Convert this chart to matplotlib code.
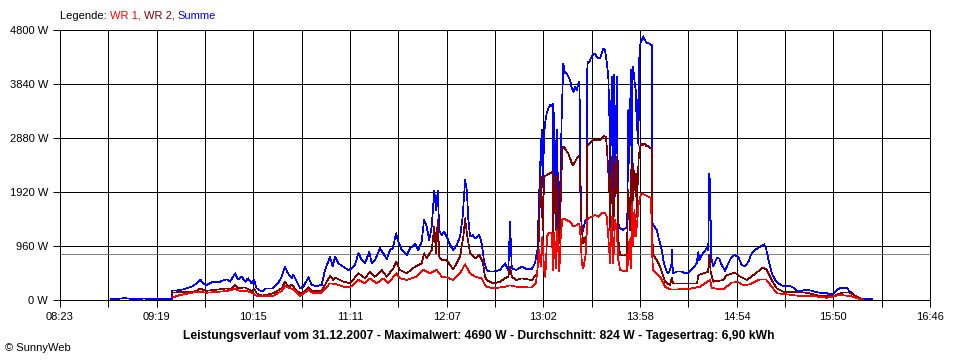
import matplotlib
matplotlib.use("Agg")
import matplotlib.pyplot as plt

plt.rcParams['font.family'] = ['Liberation Sans', 'DejaVu Sans']

# time in minutes after midnight, power in W
t_summe = [532.5, 536.5, 540.6, 542.3, 546.4, 552.1, 555.0, 560.8, 565.4, 567.6, 567.8, 572.4, 576.3, 579.3,
           582.0, 584.0, 585.7, 587.8, 591.5, 595.5, 599.4, 601.3, 604.2, 605.9, 608.1, 610.0, 611.7, 613.8,
           615.2, 616.7, 619.6, 622.1, 626.2, 629.1, 631.2, 633.1, 634.8, 637.0, 637.9, 639.5, 641.8, 643.7,
           646.6, 648.5, 651.4, 654.3, 656.2, 659.1, 660.7, 662.0, 663.9, 666.8, 669.7, 671.7, 673.6, 675.5,
           677.4, 679.4, 681.8, 683.2, 685.1, 688.0, 689.9, 691.9, 693.8, 695.4, 697.3, 698.6, 700.6, 703.5,
           705.4, 708.3, 710.2, 712.1, 713.5, 715.0, 716.5, 717.9, 719.4, 720.4, 721.4, 722.3, 723.7, 725.0,
           726.6, 728.5, 730.4, 732.4, 734.3, 735.8, 737.2, 738.2, 739.1, 740.1, 741.6, 743.0, 745.4, 746.8,
           748.2, 749.7, 751.6, 753.5, 757.4, 760.3, 762.2, 763.2, 764.2, 766.7, 770.0, 772.8, 775.7, 777.6,
           779.0, 779.6, 780.5, 781.5, 782.1, 782.9, 783.4, 784.4, 785.3, 786.3, 787.3, 787.9, 788.2, 788.8,
           789.6, 790.5, 791.1, 792.1, 793.1, 794.0, 795.0, 796.0, 796.9, 797.9, 798.9, 799.8, 800.8, 801.8,
           802.7, 803.3, 803.7, 804.2, 805.0, 806.0, 806.9, 807.7, 807.9, 808.5, 809.5, 810.4, 811.4, 812.3,
           813.3, 814.3, 815.2, 816.2, 817.1, 818.1, 819.1, 820.0, 820.6, 821.0, 822.0, 822.6, 823.3, 823.9,
           824.9, 825.8, 826.8, 828.7, 830.7, 831.0, 831.6, 832.2, 833.0, 833.6, 834.1, 834.7, 835.3, 835.9,
           836.5, 836.8, 837.4, 838.0, 838.8, 839.3, 840.3, 840.8, 841.8, 842.6, 843.2, 844.1, 845.1, 845.5,
           846.0, 848.0, 848.9, 849.9, 850.9, 851.8, 852.8, 853.8, 854.7, 855.7, 856.7, 856.9, 857.1, 857.6,
           859.6, 862.5, 864.4, 866.3, 867.3, 869.2, 871.1, 872.1, 872.6, 874.0, 875.9, 876.9, 877.8, 878.4,
           879.0, 879.4, 880.7, 882.7, 884.2, 885.6, 887.5, 889.4, 891.4, 893.3, 895.2, 897.2, 899.1, 901.0,
           902.9, 904.9, 906.8, 908.7, 910.1, 911.2, 912.5, 914.5, 916.4, 918.3, 920.3, 923.2, 925.1, 927.0,
           929.0, 931.9, 934.7, 937.6, 940.5, 943.4, 946.3, 948.2, 950.1, 952.1, 954.0, 955.9, 957.9, 959.8,
           961.7, 963.7, 965.6, 967.5, 972.3]
p_summe = [15, 20, 35, 25, 20, 25, 18, 22, 20, 20, 165, 175, 207, 240,
           296, 367, 300, 267, 326, 326, 367, 326, 474, 367, 415, 326, 385, 296,
           356, 207, 148, 207, 207, 296, 415, 593, 474, 385, 444, 356, 207, 237,
           403, 267, 249, 267, 533, 759, 593, 770, 652, 593, 533, 563, 622, 830,
           711, 652, 859, 652, 711, 919, 830, 724, 889, 919, 1185, 1037, 889, 800,
           919, 996, 889, 1037, 1422, 1304, 1067, 1304, 1943, 1600, 1943, 1230, 1156, 1215,
           1126, 978, 889, 978, 1126, 1481, 2133, 1956, 1422, 1126, 1156, 1096, 1156, 1007,
           681, 533, 504, 504, 533, 652, 533, 1393, 563, 533, 593, 548, 548, 652,
           889, 1481, 2311, 3022, 2000, 2904, 3141, 3319, 3407, 3467, 3440, 3496, 1244, 3320,
           1300, 3022, 1000, 1837, 3320, 4207, 4030, 4030, 3970, 3911, 3763, 3700, 3790, 3730,
           3850, 3882, 3022, 1481, 1185, 1330, 1422, 1450, 4237, 4207, 4266, 4326, 4355, 4385,
           4326, 4296, 4296, 4385, 4474, 4444, 4237, 3970, 3319, 2133, 3970, 1837, 4000, 1837,
           3970, 1363, 1274, 1244, 1300, 1481, 3378, 2430, 4089, 2193, 4148, 4030, 3850, 3730,
           3022, 3560, 2750, 4444, 4593, 4622, 4690, 4630, 4593, 4563, 4563, 4550, 4533, 1363,
           1333, 1244, 1126, 1007, 889, 711, 593, 504, 474, 533, 650, 889, 600, 474,
           504, 504, 474, 480, 520, 569, 652, 859, 711, 800, 880, 919, 889, 2252,
           1970, 770, 593, 741, 740, 620, 520, 652, 770, 800, 760, 622, 600, 680,
           830, 889, 930, 960, 990, 920, 730, 474, 360, 296, 260, 240, 250, 220,
           160, 165, 180, 165, 140, 120, 120, 100, 119, 178, 210, 220, 210, 148,
           100, 59, 30, 12, 12]

t_wr2 = [567.8, 572.4, 578.2, 582.0, 584.0, 585.7, 587.8, 592.6, 599.4, 601.3, 604.2, 605.9, 610.0, 613.8,
         615.2, 616.7, 619.6, 626.2, 631.2, 633.1, 634.8, 637.0, 637.9, 639.5, 641.8, 643.7, 646.6, 648.5,
         654.3, 657.2, 659.1, 661.0, 662.0, 666.8, 670.7, 675.5, 679.4, 682.2, 685.1, 689.0, 691.9, 695.7,
         697.3, 699.6, 703.5, 708.3, 712.1, 713.5, 715.0, 717.9, 719.4, 720.4, 721.4, 722.3, 723.7, 726.6,
         728.5, 730.4, 734.3, 736.2, 737.2, 738.5, 740.1, 743.0, 745.4, 747.4, 748.7, 749.7, 753.5, 757.4,
         760.3, 762.2, 763.2, 764.2, 766.7, 770.0, 775.7, 777.6, 779.0, 779.6, 780.5, 781.1, 782.1, 782.9,
         784.4, 786.3, 787.9, 788.2, 788.8, 789.8, 790.5, 791.7, 792.7, 793.4, 794.0, 795.0, 796.0, 796.9,
         797.9, 798.9, 799.8, 800.8, 801.8, 802.7, 803.3, 803.7, 804.7, 805.6, 806.9, 807.4, 807.9, 808.5,
         810.4, 811.4, 813.3, 815.2, 816.2, 817.5, 818.7, 819.5, 820.6, 821.0, 822.0, 822.9, 823.9, 824.5,
         825.2, 825.8, 826.8, 828.7, 830.7, 831.0, 831.6, 832.6, 833.2, 833.9, 834.5, 835.1, 835.9, 836.5,
         837.0, 837.6, 838.4, 839.3, 840.3, 841.3, 842.2, 843.2, 844.1, 845.1, 845.5, 846.0, 848.0, 849.9,
         852.8, 855.7, 856.7, 857.4, 871.3, 872.1, 877.7, 878.4, 879.2, 880.6, 886.5, 888.5, 893.3, 896.2,
         900.1, 903.9, 909.7, 911.6, 914.5, 917.4, 921.2, 934.7, 942.4, 950.1, 955.9, 959.8, 963.7, 966.5]
p_wr2 = [130, 142, 142, 160, 207, 180, 165, 180, 207, 190, 267, 207, 225, 160,
         207, 119, 77, 119, 207, 326, 240, 267, 237, 180, 119, 130, 225, 166,
         166, 326, 427, 356, 400, 326, 296, 474, 385, 504, 415, 533, 415, 563,
         681, 533, 474, 593, 652, 830, 740, 889, 1304, 830, 1422, 770, 711, 711,
         622, 545, 770, 1126, 1452, 1126, 830, 740, 800, 681, 415, 356, 296, 326,
         385, 415, 593, 415, 356, 385, 356, 420, 474, 889, 1837, 2193, 1244, 2193,
         2222, 2252, 2281, 1185, 2193, 1244, 2193, 1007, 1956, 2667, 2726, 2696, 2637, 2607,
         2519, 2430, 2400, 2460, 2519, 2548, 2560, 2015, 1244, 1007, 1126, 1100, 2785, 2756,
         2815, 2844, 2844, 2844, 2874, 2916, 2900, 2548, 1956, 1244, 2548, 1244, 2430, 1900,
         2548, 1067, 800, 790, 800, 1185, 1956, 1244, 2311, 1480, 2430, 1956, 2250, 1480,
         2070, 2548, 2726, 2785, 2756, 2785, 2726, 2740, 2696, 2696, 1067, 800, 711, 593,
         326, 267, 390, 296, 296, 444, 504, 800, 500, 326, 356, 444, 485, 415,
         356, 444, 581, 533, 356, 207, 148, 130, 71, 71, 136, 130, 59, 15]

t_wr1 = [568.3, 572.4, 578.2, 582.0, 587.8, 592.6, 599.4, 604.2, 607.1, 610.0, 613.8, 616.7, 619.6, 626.2,
         631.2, 633.1, 636.0, 637.9, 641.8, 646.6, 649.5, 654.3, 659.1, 662.0, 666.8, 670.7, 675.5, 679.4,
         682.2, 686.1, 689.9, 692.8, 697.3, 699.6, 703.5, 709.3, 713.1, 716.9, 720.8, 723.7, 726.6, 730.4,
         734.3, 737.2, 740.1, 743.0, 746.8, 748.7, 749.7, 753.5, 760.3, 763.2, 766.7, 775.7, 778.2, 779.0,
         780.1, 780.9, 781.9, 782.9, 783.6, 784.6, 785.3, 786.3, 787.3, 788.2, 788.8, 789.6, 790.5, 791.7,
         792.5, 793.4, 794.0, 796.0, 797.9, 799.8, 801.8, 803.3, 804.1, 804.7, 805.6, 806.9, 807.9, 808.5,
         810.4, 812.3, 814.3, 816.2, 818.1, 819.1, 820.0, 821.0, 822.0, 822.9, 823.9, 824.9, 825.8, 826.8,
         830.7, 831.0, 831.6, 832.2, 833.0, 833.7, 834.5, 835.1, 835.9, 836.8, 837.6, 838.4, 839.3, 841.3,
         843.2, 844.7, 845.5, 846.0, 849.9, 852.8, 855.7, 857.6, 867.3, 873.0, 878.8, 879.8, 882.7, 886.5,
         891.4, 895.2, 898.1, 902.0, 907.7, 911.2, 914.5, 917.4, 923.2, 930.9, 937.6, 946.3, 954.0, 959.8,
         965.6, 967.5]
p_wr1 = [47, 89, 120, 148, 130, 140, 160, 196, 160, 165, 130, 71, 71, 71,
         160, 249, 207, 190, 71, 178, 119, 130, 296, 285, 237, 225, 356, 296,
         385, 296, 385, 296, 474, 385, 356, 415, 533, 474, 533, 415, 400, 356,
         474, 634, 474, 415, 385, 267, 237, 207, 237, 260, 237, 220, 300, 533,
         889, 593, 1126, 533, 415, 1126, 1185, 1200, 1185, 533, 1200, 563, 1244, 504,
         1126, 1422, 1452, 1422, 1393, 1304, 1333, 1363, 1067, 652, 563, 800, 1422, 1452,
         1481, 1511, 1481, 1541, 1550, 1481, 1126, 652, 1481, 652, 1422, 1244, 711, 533,
         504, 800, 620, 1067, 560, 1718, 948, 1600, 1126, 1422, 1718, 1837, 1896, 1866,
         1837, 1810, 711, 533, 415, 237, 190, 185, 200, 237, 356, 215, 200, 190,
         308, 320, 260, 280, 367, 367, 237, 119, 100, 71, 71, 40, 89, 71,
         15, 5]

durchschnitt = 824
maximalwert = 4690
tagesertrag = "6,90"
datum = "31.12.2007"

x_start, x_end = 503, 1006          # 08:23 .. 16:46
n_div = 18
x_labels = ["08:23", "09:19", "10:15", "11:11", "12:07", "13:02", "13:58", "14:54", "15:50", "16:46"]
y_ticks = [0, 960, 1920, 2880, 3840, 4800]

px = 0.72  # one pixel at 100 dpi

fig = plt.figure(figsize=(9.6, 3.6), dpi=100)
ax = fig.add_axes([60/960, 60/360, 870/960, 270/360])

ax.axhline(durchschnitt, color='#808080', lw=px, zorder=1.5, antialiased=False)
ax.plot(t_summe, p_summe, color='#0000ff', lw=0.5, zorder=3, antialiased=False)
ax.plot(t_wr2, p_wr2, color='#800000', lw=0.5, zorder=4, antialiased=False)
ax.plot(t_wr1, p_wr1, color='#ff0000', lw=0.5, zorder=5, antialiased=False)

ax.set_xlim(x_start, x_end)
ax.set_ylim(0, 4800)
xt = [x_start + i*(x_end - x_start)/n_div for i in range(n_div + 1)]
xl = [x_labels[i//2] if i % 2 == 0 else '' for i in range(n_div + 1)]
ax.set_xticks(xt)
ax.set_xticklabels(xl)
ax.set_yticks(y_ticks)
ax.set_yticklabels([f"{v} W" for v in y_ticks])
ax.grid(True, color='black', lw=px, zorder=1, antialiased=False)
ax.set_axisbelow(True)
ax.tick_params(length=5, width=px, color='black', labelsize=8, pad=3.5)
for s in ax.spines.values():
    s.set_color('black')
    s.set_linewidth(px)

# legend line at the top
fig.canvas.draw()
r = fig.canvas.get_renderer()
x = 60
for txt, col in [("Legende: ", 'black'), ("WR 1, ", '#ff0000'), ("WR 2, ", '#800000'), ("Summe", '#0000ff')]:
    t = fig.text(x/960, 1 - 16/360, txt, color=col, fontsize=8, va='center', ha='left')
    bb = t.get_window_extent(renderer=r)
    x += bb.width

fig.text(0.499, 1 - 336/360,
         f"Leistungsverlauf vom {datum} - Maximalwert: {maximalwert} W - Durchschnitt: {durchschnitt} W - Tagesertrag: {tagesertrag} kWh",
         fontsize=8.7, fontweight='bold', ha='center', va='center')
fig.text(5/960, 1 - 348/360, "© SunnyWeb", fontsize=8, ha='left', va='center')

fig.savefig("out.png", dpi=100)
